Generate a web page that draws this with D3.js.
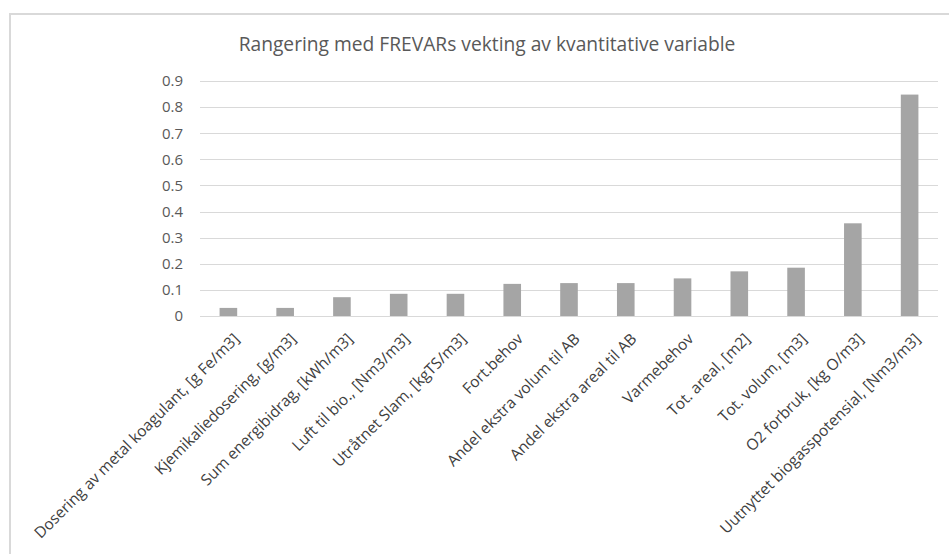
<!DOCTYPE html>
<html>
<head>
<meta charset="utf-8">
<script src="https://cdn.jsdelivr.net/npm/d3@7"></script>
<style>
  body { margin: 0; background: #fff; }
  text { font-family: "Open Sans", "Liberation Sans", sans-serif; }
</style>
</head>
<body>
<div id="graphic"></div>
<script>
// data
var categories = [
  "Dosering av metal koagulant, [g Fe/m3]",
  "Kjemikaliedosering, [g/m3]",
  "Sum energibidrag, [kWh/m3]",
  "Luft til bio., [Nm3/m3]",
  "Utråtnet Slam, [kgTS/m3]",
  "Fort.behov",
  "Andel ekstra volum til AB",
  "Andel ekstra areal til AB",
  "Varmebehov",
  "Tot. areal, [m2]",
  "Tot. volum, [m3]",
  "O2 forbruk, [kg O/m3]",
  "Uutnyttet biogasspotensial, [Nm3/m3]"
];
var values = [0.031, 0.031, 0.072, 0.085, 0.085, 0.123, 0.126, 0.126, 0.144, 0.171, 0.185, 0.355, 0.848];
var yTicks = [0, 0.1, 0.2, 0.3, 0.4, 0.5, 0.6, 0.7, 0.8, 0.9];
var title = "Rangering med FREVARs vekting av kvantitative variable";

var W = 949, H = 554;
var margin = {top: 81, right: 11, bottom: 238, left: 200},
    width = W - margin.left - margin.right,
    height = H - margin.top - margin.bottom;

var svg = d3.select("#graphic").append("svg")
  .attr("width", W)
  .attr("height", H);

// chart frame (only left and top edges are visible in the crop)
svg.append("path")
  .attr("d", "M10,554 L10,14 L949,14")
  .attr("fill", "none")
  .attr("stroke", "#d9d9d9")
  .attr("stroke-width", 2);

// title, sized to the reference width
var t = svg.append("text")
  .attr("x", 487)
  .attr("y", 51)
  .attr("text-anchor", "middle")
  .attr("fill", "#595959")
  .style("font-size", "18px")
  .text(title);
var tw = t.node().getComputedTextLength();
t.style("font-size", (18 * 497 / tw) + "px");

var g = svg.append("g")
  .attr("transform", "translate(" + margin.left + "," + margin.top + ")");

var x = d3.scaleBand()
  .domain(categories)
  .range([0, width])
  .paddingInner(0.69)
  .paddingOuter(0.345);

var y = d3.scaleLinear()
  .domain([0, 0.9])
  .range([height, 0]);

// gridlines
g.append("g")
  .selectAll("line")
  .data(yTicks)
  .enter().append("line")
  .attr("x1", 0)
  .attr("x2", width)
  .attr("y1", function(d) { return Math.round(y(d)) + 0.5; })
  .attr("y2", function(d) { return Math.round(y(d)) + 0.5; })
  .attr("stroke", "#d9d9d9")
  .attr("stroke-width", 1);

// y axis labels
var yAxis = g.append("g")
  .call(d3.axisLeft(y).tickValues(yTicks).tickSize(0).tickPadding(17)
    .tickFormat(function(d) { return d === 0 ? "0" : d3.format(".1f")(d); }));
yAxis.select(".domain").remove();
yAxis.selectAll("text")
  .attr("fill", "#595959")
  .style("font-size", "15px")
  .style("font-family", "'Open Sans', sans-serif");

// bars
g.selectAll(".bar")
  .data(values)
  .enter().append("rect")
  .attr("class", "bar")
  .attr("fill", "#a5a5a5")
  .attr("x", function(d, i) { return x(categories[i]); })
  .attr("width", x.bandwidth())
  .attr("y", function(d) { return y(d); })
  .attr("height", function(d) { return height - y(d); });

// category labels, rotated 45 degrees
g.append("g")
  .selectAll("text")
  .data(categories)
  .enter().append("text")
  .attr("transform", function(d) {
    return "translate(" + (x(d) + x.bandwidth() / 2 + 8) + "," + (height + 20) + ") rotate(-45)";
  })
  .attr("text-anchor", "end")
  .attr("dy", "0.35em")
  .attr("fill", "#404040")
  .style("font-size", "15.5px")
  .text(function(d) { return d; });
</script>
</body>
</html>
